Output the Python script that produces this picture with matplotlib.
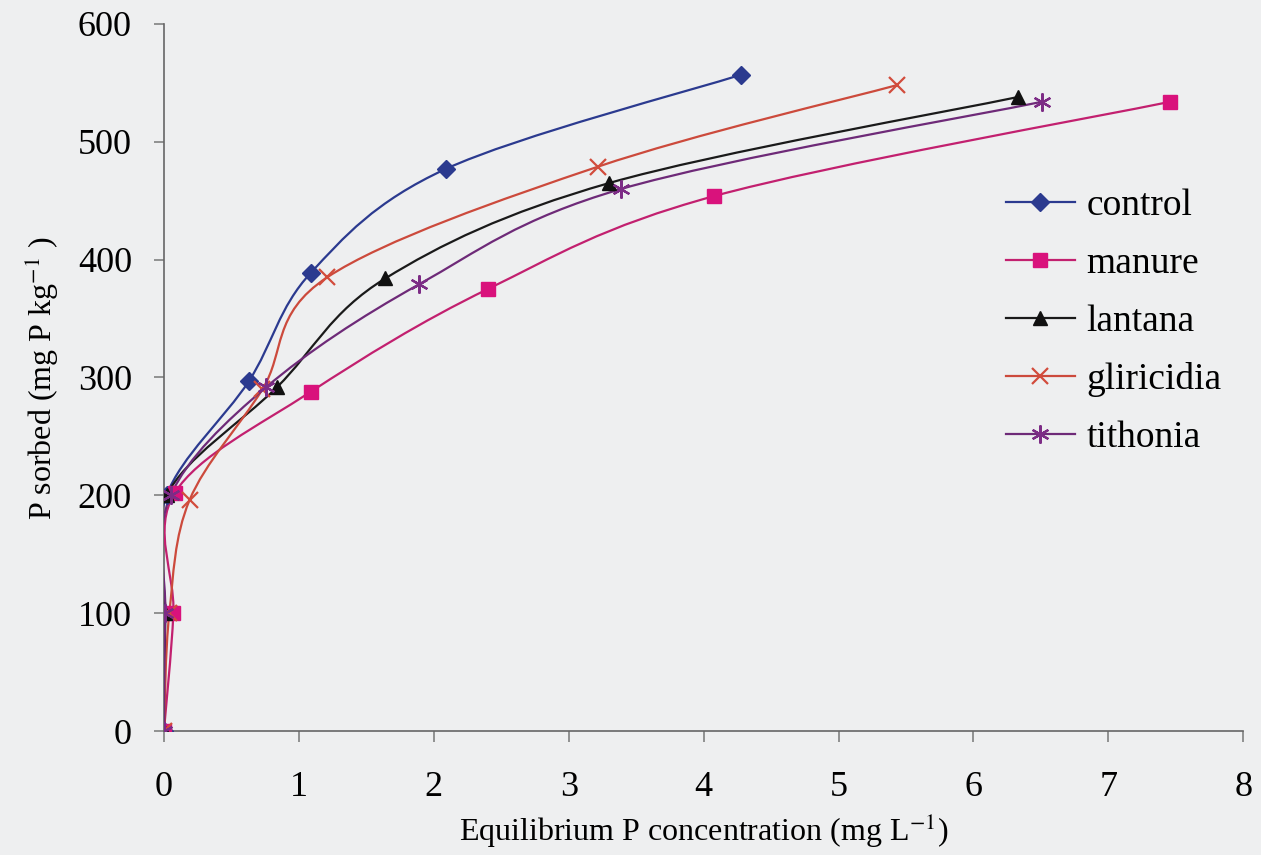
import matplotlib
matplotlib.use("Agg")
import matplotlib.pyplot as plt
import numpy as np
from matplotlib.path import Path
from matplotlib.patches import PathPatch
from matplotlib.lines import Line2D

# Equilibrium P concentration (mg/L) and P sorbed (mg P/kg)
control_x = [0, 0.00, 0.02, 0.63, 1.09, 2.09, 4.28]
control_y = [0, 100, 200, 297, 389, 477, 557]
manure_x = [0, 0.07, 0.08, 1.09, 2.40, 4.08, 7.46]
manure_y = [0, 100, 202, 288, 375, 454, 534]
lantana_x = [0, 0.01, 0.02, 0.84, 1.64, 3.30, 6.33]
lantana_y = [0, 100, 200, 292, 384, 465, 538]
gliricidia_x = [0, 0.04, 0.19, 0.73, 1.21, 3.22, 5.43]
gliricidia_y = [0, 100, 196, 290, 385, 479, 548]
tithonia_x = [0, 0.01, 0.05, 0.76, 1.89, 3.39, 6.51]
tithonia_y = [0, 100, 200, 292, 379, 460, 534]

labels = ['control', 'manure', 'lantana', 'gliricidia', 'tithonia']
x_ticks = [0, 1, 2, 3, 4, 5, 6, 7, 8]
y_ticks = [0, 100, 200, 300, 400, 500, 600]

SERIES = [
    (control_x, control_y, '#2b3a8f', '#2b3a8f', 'D', 9),
    (manure_x, manure_y, '#c2206f', '#d9127c', 's', 10),
    (lantana_x, lantana_y, '#1a1a1a', '#111111', '^', 10),
    (gliricidia_x, gliricidia_y, '#cc4a3c', '#d24c3c', 'x', 11),
    (tithonia_x, tithonia_y, '#6e2a78', '#7d2c86', (6, 2, 0), 13),
]

BG = '#eeeff0'
plt.rcParams['font.family'] = ['Liberation Serif', 'DejaVu Serif']
plt.rcParams['mathtext.fontset'] = 'stix'


def smooth_path(ax, xs, ys):
    # Excel-style smoothed line: cubic bezier through the points, built in screen space
    pts = ax.transData.transform(np.column_stack([xs, ys]))
    n = len(pts)
    verts = [pts[0]]
    codes = [Path.MOVETO]
    for i in range(n - 1):
        p0 = pts[i - 1] if i > 0 else pts[i]
        p1, p2 = pts[i], pts[i + 1]
        p3 = pts[i + 2] if i + 2 < n else pts[i + 1]
        c1 = p1 + (p2 - p0) / 6.0
        c2 = p2 - (p3 - p1) / 6.0
        verts += [c1, c2, p2]
        codes += [Path.CURVE4] * 3
    verts = ax.transData.inverted().transform(np.array(verts))
    return Path(verts, codes)


fig = plt.figure(figsize=(12.61, 8.55), dpi=100, facecolor=BG)
ax = fig.add_axes([0.130, 0.145, 0.856, 0.827], facecolor=BG)
ax.set_xlim(0, 8)
ax.set_ylim(0, 600)

handles = []
for (xs, ys, lc, mc, mk, ms), lab in zip(SERIES, labels):
    pth = smooth_path(ax, xs, ys)
    ax.add_patch(PathPatch(pth, facecolor='none', edgecolor=lc, lw=1.6, zorder=3))
    ax.plot(xs, ys, ls='none', marker=mk, ms=ms, color=mc, mec=mc,
            mew=1.6 if mk in ('x', (6, 2, 0)) else 1.0, zorder=4)
    handles.append(Line2D([], [], color=lc, lw=1.6, marker=mk, ms=ms, mfc=mc, mec=mc,
                          mew=1.6 if mk in ('x', (6, 2, 0)) else 1.0))

leg = ax.legend(handles, labels, loc='upper left', bbox_to_anchor=(0.766, 0.788),
                frameon=False, fontsize=27, handlelength=1.85, handletextpad=0.3,
                labelspacing=0.62, borderaxespad=0)

for s in ('top', 'right'):
    ax.spines[s].set_visible(False)
for s in ('left', 'bottom'):
    ax.spines[s].set_color('#666666')
    ax.spines[s].set_linewidth(1.2)

ax.set_xticks(x_ticks)
ax.set_yticks(y_ticks)
ax.tick_params(axis='x', direction='out', length=8, width=1.1, color='#777777',
               labelsize=26, pad=21)
ax.tick_params(axis='y', direction='out', length=7, width=1.1, color='#777777',
               labelsize=26, pad=16)

ax.set_xlabel('Equilibrium P concentration (mg L$^{-1}$)', fontsize=23, labelpad=5)
ax.set_ylabel('P sorbed (mg P kg$^{-1}$ )', fontsize=23, labelpad=12)

fig.savefig('out.png', dpi=100, facecolor=BG)
